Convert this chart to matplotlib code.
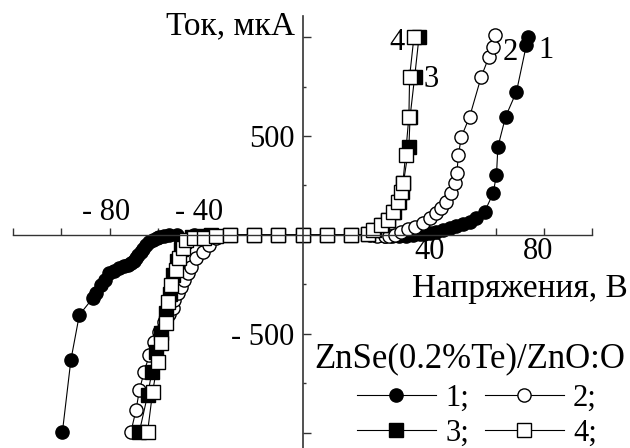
import matplotlib
matplotlib.use("Agg")
import matplotlib.pyplot as plt

plt.rcParams['font.family'] = ['Liberation Serif', 'DejaVu Serif']

# curve 1: filled circles
v1 = [-99.5, -96.0, -92.5, -87.0, -85.6, -83.5, -82.0, -80.1, -78.0, -75.9, -74.0, -72.5,
      -71.1, -70.0, -69.0, -68.0, -66.9, -66.0, -64.9, -63.5, -62.1, -60.5, -59.3, -57.5,
      -55.2, -52.0, -45.0, -40.0, -30.0, -20.0, -10.0, 0.0, 10.0, 20.0, 30.0, 34.0, 37.0,
      40.0, 43.0, 46.0, 48.5, 50.5, 52.7, 55.5, 58.2, 61.0, 63.8, 66.5, 69.3, 72.1, 75.5,
      79.0, 80.4, 81.0, 84.2, 88.7, 92.8, 93.5]
i1 = [-993, -631, -404, -320, -295, -253, -225, -194, -180, -168, -158, -150,
      -143, -130, -118, -100, -84, -70, -50, -37, -25, -15, -8, -4,
      -1, 0, 0, 0, 0, 0, 0, 0, 0, 0, 0, -3, -5,
      -5, -3, 0, 3, 5, 8, 17, 25, 34, 45, 55, 67, 84, 118,
      210, 303, 446, 598, 724, 960, 1001]

# curve 2: open circles
v2 = [-71.1, -69.0, -67.6, -65.6, -63.5, -61.4, -59.5, -57.5, -55.5, -53.8, -53.1, -51.7,
      -50.3, -49.0, -47.6, -46.2, -44.1, -41.4, -38.6, -35.8, -30.0, -20.0, -10.0, 0.0,
      10.0, 20.0, 28.0, 31.0, 34.0, 36.0, 38.2, 41.0, 43.7, 46.5, 49.9, 52.7, 55.5, 57.6,
      59.6, 61.7, 63.1, 64.0, 64.6, 65.9, 69.3, 74.1, 77.3, 79.0, 79.7]
i2 = [-993, -884, -783, -690, -606, -539, -490, -440, -400, -370, -328, -295,
      -261, -227, -194, -160, -118, -84, -50, -17, 0, 0, 0, 0,
      0, 0, -2, -4, -5, -3, -1, 17, 29, 42, 59, 84, 110, 135,
      168, 210, 261, 312, 404, 497, 598, 800, 900, 951, 1010]

# curve 3: filled squares
v3 = [-67.6, -64.2, -62.4, -60.7, -58.6, -56.6, -55.0, -53.5, -52.0, -50.5, -49.0, -46.0,
      -42.0, -38.0, -30.0, -20.0, -10.0, 0.0, 10.0, 20.0, 27.0, 29.5, 32.8, 35.6, 37.8,
      39.8, 41.2, 41.8, 44.1, 44.6, 46.5, 48.3]
i3 = [-993, -808, -690, -589, -496, -396, -300, -200, -130, -70, -30, -12,
      -6, -2, 0, 0, 0, 0, 0, 0, 3, 25, 50, 76, 118,
      168, 219, 261, 446, 598, 800, 1001]

# curve 4: open squares
v4 = [-64.2, -62.1, -60.0, -58.6, -56.6, -55.6, -54.5, -52.4, -51.3, -49.7, -48.3, -44.8,
      -40.7, -35.8, -30.0, -20.0, -10.0, 0.0, 10.0, 20.0, 27.0, 29.2, 32.6, 35.4, 37.5,
      39.6, 41.0, 41.6, 42.7, 44.1, 44.4, 46.2]
i4 = [-993, -791, -640, -547, -446, -340, -253, -177, -118, -67, -25, -17,
      -13, -5, 0, 0, 0, 0, 0, 0, 3, 25, 50, 76, 118,
      168, 219, 261, 404, 598, 800, 1001]

series = [(v1, i1, 'o', 'black', '1;'),
          (v2, i2, 'o', 'white', '2;'),
          (v3, i3, 's', 'black', '3;'),
          (v4, i4, 's', 'white', '4;')]

fig = plt.figure(figsize=(6.3, 4.48), dpi=100)
ax = fig.add_axes([13 / 630, 0, 579 / 630, 1])

handles = []
for v, i, m, fc, lab in series:
    h, = ax.plot(v, i, color='black', lw=0.8, marker=m, markersize=9.5,
                 markerfacecolor=fc, markeredgecolor='black', markeredgewidth=1.0,
                 label=lab)
    handles.append(h)

ax.set_xlim(-120, 120)
ax.set_ylim(-1076, 1187)

for s in ['top', 'right']:
    ax.spines[s].set_visible(False)
ax.spines['left'].set_position(('data', 0))
ax.spines['bottom'].set_position(('data', 0))
ax.spines['left'].set_bounds(-1076, 1106)
ax.spines['left'].set_color('#333333')
ax.spines['bottom'].set_color('#333333')
ax.spines['left'].set_linewidth(1.2)
ax.spines['bottom'].set_linewidth(1.0)

ax.set_xticks([-120, -100, -80, -60, -40, -20, 20, 40, 60, 80, 100, 120])
ax.set_xticklabels([])
ax.tick_params(axis='x', direction='in', length=5, width=1, color='#333333')
ax.set_yticks([-1000, -500, 500, 1000])
ax.set_yticklabels(['', '- 500', '500', ''], fontsize=22)
ax.set_yticks([-750, -250, 250, 750], minor=True)
ax.tick_params(axis='y', which='major', direction='in', length=6, width=1,
               color='#333333', pad=6)
ax.tick_params(axis='y', which='minor', direction='in', length=2.5, width=1,
               color='#333333')

# x tick labels as placed in the original
xlab_pos = [-81.3, -42.7, 52.7, 97.5]
xlab_txt = ['- 80', '- 40', '40', '80']
xlab_y = [116, 116, -81, -81]
for x, t, y in zip(xlab_pos, xlab_txt, xlab_y):
    ax.text(x, y, t, fontsize=22, ha='center', va='center')

ax.text(-3.3, 1055, 'Ток, мкА', fontsize=24, ha='right', va='center')
ax.text(134.9, -313, 'Напряжения, В', fontsize=24, ha='right', va='baseline',
        clip_on=False)

# curve numbers
for x, y, t in [(39, 970, '4'), (53.5, 783, '3'), (86.3, 924, '2'), (100.8, 934, '1')]:
    ax.text(x, y, t, fontsize=22, ha='center', va='center')

fig.text(470 / 630, 1 - 367 / 448, 'ZnSe(0.2%Te)/ZnO:O', fontsize=25,
         ha='center', va='baseline')
leg = ax.legend([handles[0], handles[2], handles[1], handles[3]],
                ['1;', '3;', '2;', '4;'], ncol=2, frameon=False, fontsize=22,
                handlelength=2.6, handletextpad=0.3, columnspacing=0.5,
                labelspacing=0.2, borderpad=0.0, borderaxespad=0.0,
                loc='lower right', bbox_to_anchor=(597 / 630, 0.0),
                bbox_transform=fig.transFigure)

fig.savefig('out.png', dpi=100)
